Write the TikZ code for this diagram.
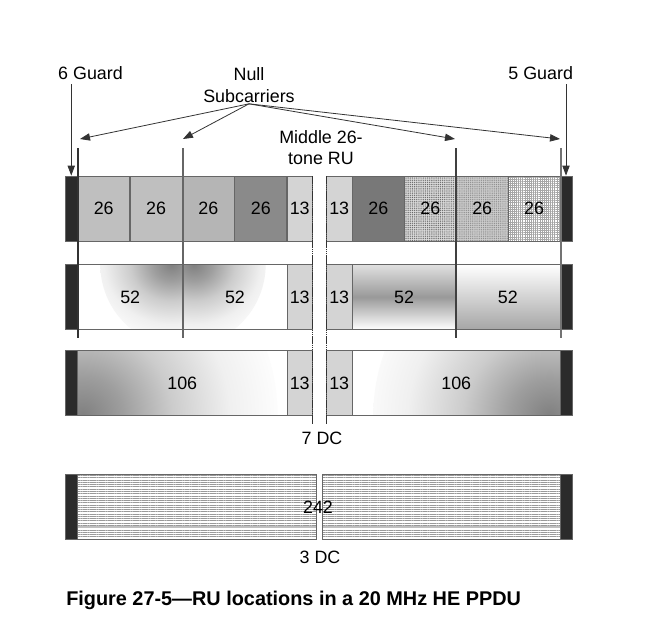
\documentclass[tikz,border=0pt]{standalone}
\usepackage{fontspec}
\setmainfont{Liberation Sans}
\usetikzlibrary{arrows.meta,patterns.meta}

\pgfdeclareradialshading{rufade}{\pgfpointorigin}{color(0bp)=(black!50); color(5bp)=(black!38); color(11bp)=(black!20); color(18bp)=(black!6); color(25bp)=(white); color(50bp)=(white)}

\begin{document}
\begin{tikzpicture}[
		x=0.75pt, y=-0.75pt
		,every node/.append style={font=\fontsize{13.4}{16}\selectfont}
		,ru/.style={draw=black!60, line width=0.6pt, inner sep=0pt, minimum height=48.75pt}
		,w26/.style={ru, minimum width=39.1pt}
		,w13/.style={ru, fill=black!17, minimum width=19.1pt}
		,guard/.style={ru, fill=black!83, minimum width=9.4pt}
		,glow/.style 2 args={fill=white, path picture={\shade [shading=rufade] (path picture bounding box.#1) circle (#2);}}
		,dotty/.style 2 args={preaction={fill=black!#1}, pattern={Dots[distance=1.4pt, radius=0.45pt]}, pattern color=black!#2}
		,hatchy/.style={preaction={fill=white}, pattern={Hatch[angle=0, distance=1.6pt, line width=0.3pt]}, pattern color=black!35}
		,liney/.style={preaction={fill=white}, pattern={Lines[angle=0, distance=1.7pt, line width=0.35pt]}, pattern color=black!40
			,path picture={\draw [black!25, line width=2pt] ([yshift=9pt]path picture bounding box.south west) -- ([yshift=9pt]path picture bounding box.south east);}}
		,null/.style={line width=1.8pt}
		,dc/.style={black!80, line width=0.7pt, dash pattern=on 1.2pt off 0.4pt}
		,arr/.style={draw=black!80, line width=0.6pt, -{Triangle[length=7.5pt, width=5.5pt]}}
	]
		\useasboundingbox (0,0) rectangle (654,625);

		% guard bands
		\foreach \y [count=\i] in {208.5,297,383,506.5} {
			\node [guard] (gl\i) at (71.25,\y) {};
			\node [guard] (gr\i) at (566,\y) {};
		}

		% 26-tone RUs
		\node [w26, fill=black!25] (a1) at (103.7,208.5) {26};
		\node [w26, fill=black!25] (a2) at (156.1,208.5) {26};
		\node [w26, fill=black!29] (a3) at (208.4,208.5) {26};
		\node [w26, fill=black!46] (a4) at (260.8,208.5) {26};
		\node [w13] (a5) at (299.75,208.5) {13};
		\node [w13] (a6) at (339.25,208.5) {13};
		\node [w26, fill=black!53] (a7) at (378.4,208.5) {26};
		\node [w26, dotty={14}{60}] (a8) at (430.3,208.5) {26};
		\node [w26, dotty={20}{45}] (a9) at (482.2,208.5) {26};
		\node [w26, hatchy] (a10) at (534.1,208.5) {26};

		% 52-tone RUs
		\node [ru, minimum width=79.1pt, glow={north east}{62pt}] (b1) at (130.25,297) {52};
		\node [ru, minimum width=78pt, glow={north west}{62pt}] (b2) at (235,297) {52};
		\node [w13] (b3) at (299.75,297) {13};
		\node [w13] (b4) at (339.25,297) {13};
		\node [ru, minimum width=77.25pt, top color=black!12, bottom color=white, middle color=black!40] (b5) at (404,297) {52};
		\node [ru, minimum width=78.4pt, top color=white, bottom color=black!35] (b6) at (507.75,297) {52};

		% 106-tone RUs
		\node [ru, minimum width=157.1pt, glow={south west}{150pt}] (c1) at (182.25,383) {106};
		\node [w13] (c2) at (299.75,383) {13};
		\node [w13] (c3) at (339.25,383) {13};
		\node [ru, minimum width=155.6pt, glow={south east}{140pt}] (c4) at (456.25,383) {106};

		% 242-tone RU
		\node [ru, minimum width=179.4pt, liney] (d1) at (197.1,506.5) {};
		\node [ru, minimum width=178.3pt, liney] (d2) at (441.15,506.5) {};
		\node (d) at (318,507) {242};

		% null subcarriers and DC
		\draw [null, black!80] (78,148) -- (78,338);
		\draw [null, black!60] (183,148) -- (183,338);
		\draw [null, black!75] (455.7,148) -- (455.7,338);
		\draw [null, black!55] (561,148) -- (561,338);
		\draw [dc] (312.5,176) -- (312.5,424);
		\draw [dc] (326,176) -- (326,424);

		% labels
		\node (l6) at (90.5,73) {6 Guard};
		\node (l5) at (540.7,73) {5 Guard};
		\node [align=center, inner sep=1pt] (null) at (249,85) {Null\\Subcarriers};
		\node [align=center, font=\fontsize{13.4}{15.75}\selectfont] (mid) at (321,147.5) {Middle 26-\\tone RU};
		\node (dc7) at (322,438) {7 DC};
		\node (dc3) at (320,557) {3 DC};
		\node [anchor=west, inner sep=0pt, font=\bfseries\fontsize{14.9}{18}\selectfont] (cap) at (66,600) {Figure 27-5---RU locations in a 20 MHz HE PPDU};

		% arrows
		\coordinate (n1) at (80,139);
		\coordinate (n2) at (183,139);
		\coordinate (n3) at (455,139);
		\coordinate (n4) at (560,139);
		\draw [arr] (null.south) -- (n1);
		\draw [arr] (null.south) -- (n2);
		\draw [arr] (null.south) -- (n3);
		\draw [arr] (null.south) -- (n4);
		\draw [arr] (l6.south -| gl1.north) -- (gl1.north);
		\draw [arr] (l5.south -| gr1.north) -- (gr1.north);
	\end{tikzpicture}
\end{document}
